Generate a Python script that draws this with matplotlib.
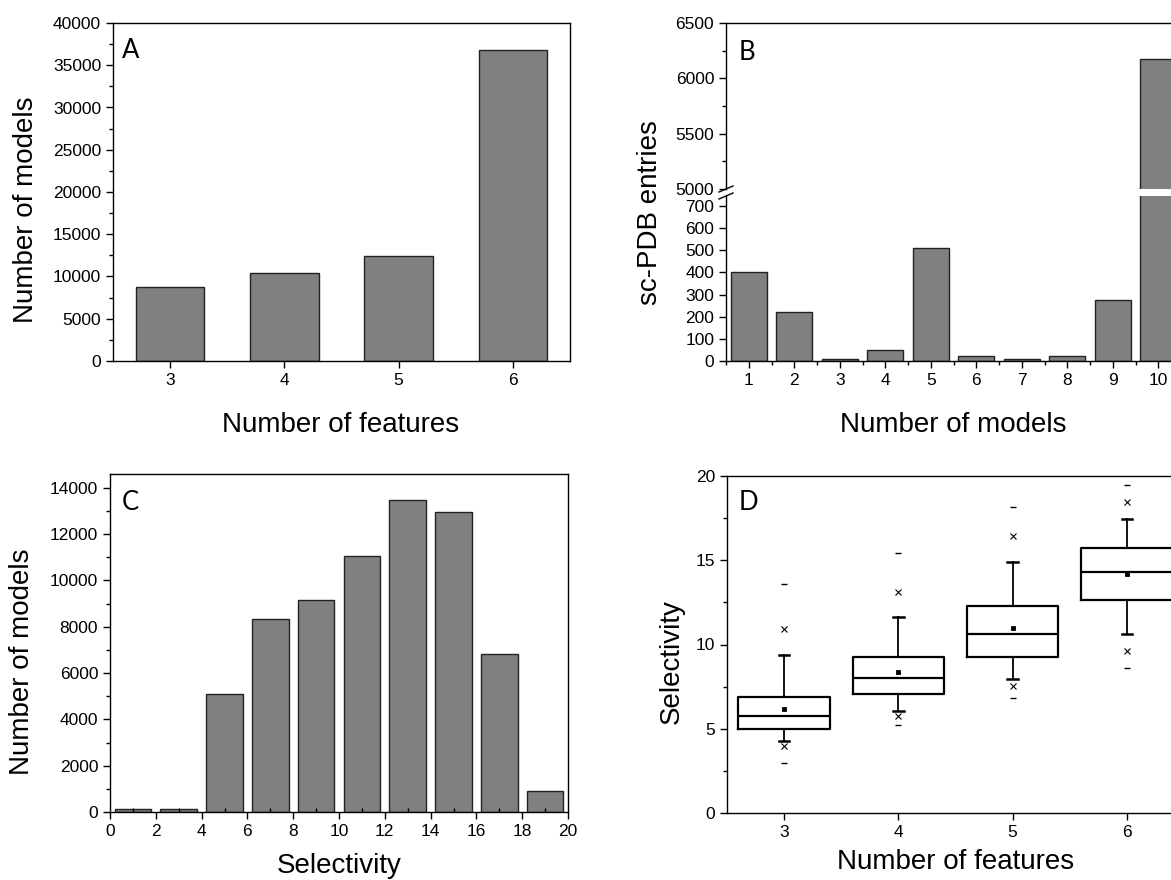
import numpy as np
import matplotlib
matplotlib.use('Agg')
import matplotlib.pyplot as plt
from matplotlib.ticker import MultipleLocator

plt.rcParams['font.family'] = ['Liberation Sans', 'DejaVu Sans']

W, H = 1171, 880

# panel A: models per number of features
a_features = [3, 4, 5, 6]
a_counts = [8800, 10450, 12450, 36800]

# panel B: sc-PDB entries per number of models
b_models = [1, 2, 3, 4, 5, 6, 7, 8, 9, 10]
b_entries = [400, 220, 8, 48, 512, 21, 7, 21, 274, 6175]

# panel C: selectivity histogram (bins of width 2)
c_centers = [1, 3, 5, 7, 9, 11, 13, 15, 17, 19]
c_counts = [115, 110, 5100, 8350, 9150, 11040, 13480, 12960, 6840, 920]

# panel D: selectivity box stats per number of features
d_features = [3, 4, 5, 6]
d_q1 = [5.0, 7.05, 9.28, 12.66]
d_med = [5.77, 8.04, 10.60, 14.29]
d_q3 = [6.89, 9.26, 12.26, 15.72]
d_mean = [6.18, 8.35, 10.96, 14.18]
d_whislo = [4.28, 6.08, 7.94, 10.64]
d_whishi = [9.38, 11.61, 14.87, 17.45]
d_p1 = [3.95, 5.75, 7.52, 9.60]
d_p99 = [10.92, 13.11, 16.41, 18.44]
d_min = [2.98, 5.25, 6.85, 8.63]
d_max = [13.58, 15.42, 18.14, 19.49]

BAR = '#808080'
TICK_FS = 12.5
LABEL_FS = 20
LETTER_FS = 18.5


def rect(l, t, r, b):
    # pixel box -> figure fraction
    return [l / W, 1 - b / H, (r - l) / W, (b - t) / H]


def pt(x, y):
    return x / W, 1 - y / H


def style(ax):
    ax.tick_params(which='both', direction='out', labelsize=TICK_FS,
                   top=False, right=False, width=1.0, color='black')
    ax.tick_params(which='major', length=5)
    ax.tick_params(which='minor', length=3)
    for s in ax.spines.values():
        s.set_linewidth(1.0)


fig = plt.figure(figsize=(W / 100, H / 100), dpi=100)

# ---- A ----
axA = fig.add_axes(rect(113, 23, 570, 361))
axA.bar(a_features, a_counts, width=0.6, color=BAR, edgecolor='#222222', linewidth=1.0)
axA.set_xlim(2.5, 6.5)
axA.set_ylim(0, 40000)
axA.set_xticks(a_features)
axA.yaxis.set_major_locator(MultipleLocator(5000))
axA.yaxis.set_minor_locator(MultipleLocator(2500))
style(axA)
axA.set_xlabel('Number of features', fontsize=LABEL_FS, va='center')
axA.xaxis.set_label_coords(*pt(341, 425), transform=fig.transFigure)
axA.set_ylabel('Number of models', fontsize=LABEL_FS, va='center')
axA.yaxis.set_label_coords(*pt(26, 210), transform=fig.transFigure)
fig.text(*pt(131, 50), 'A', family='Lato', fontsize=LETTER_FS, ha='center', va='center')

# ---- B (broken y axis) ----
axBu = fig.add_axes(rect(726, 23, 1181, 189))
axBl = fig.add_axes(rect(726, 196, 1181, 361))
for ax in (axBu, axBl):
    ax.bar(b_models, b_entries, width=0.8, color=BAR, edgecolor='#222222', linewidth=1.0)
    ax.set_xlim(0.5, 10.5)
    style(ax)
axBu.set_ylim(5000, 6500)
axBu.yaxis.set_major_locator(MultipleLocator(500))
axBu.yaxis.set_minor_locator(MultipleLocator(250))
axBu.spines['bottom'].set_visible(False)
axBu.tick_params(axis='x', which='both', bottom=False, labelbottom=False)
axBl.set_ylim(0, 745)
axBl.yaxis.set_major_locator(MultipleLocator(100))
axBl.spines['top'].set_visible(False)
axBl.set_xticks(b_models)
axBl.xaxis.set_minor_locator(MultipleLocator(0.5))
# break marks on the left spine
for yb in (189, 196):
    x0, y0 = pt(719, yb + 3)
    x1, y1 = pt(733, yb - 3)
    fig.add_artist(plt.Line2D([x0, x1], [y0, y1], color='black', lw=1.0))
axBl.set_xlabel('Number of models', fontsize=LABEL_FS, va='center')
axBl.xaxis.set_label_coords(*pt(953, 425), transform=fig.transFigure)
fig.text(*pt(650, 213), 'sc-PDB entries', fontsize=LABEL_FS, rotation=90,
         ha='center', va='center')
fig.text(*pt(747, 52), 'B', family='Lato', fontsize=LETTER_FS, ha='center', va='center')

# ---- C ----
axC = fig.add_axes(rect(110, 474, 568, 812))
axC.bar(c_centers, c_counts, width=1.6, color=BAR, edgecolor='#222222', linewidth=1.0)
axC.set_xlim(0, 20)
axC.set_ylim(0, 14600)
axC.xaxis.set_major_locator(MultipleLocator(2))
axC.xaxis.set_minor_locator(MultipleLocator(1))
axC.yaxis.set_major_locator(MultipleLocator(2000))
axC.yaxis.set_minor_locator(MultipleLocator(1000))
style(axC)
axC.tick_params(axis='x', which='minor', direction='in')
axC.set_xlabel('Selectivity', fontsize=LABEL_FS, va='center')
axC.xaxis.set_label_coords(*pt(339, 866), transform=fig.transFigure)
axC.set_ylabel('Number of models', fontsize=LABEL_FS, va='center')
axC.yaxis.set_label_coords(*pt(22, 662), transform=fig.transFigure)
fig.text(*pt(130, 502), 'C', family='Lato', fontsize=LETTER_FS, ha='center', va='center')

# ---- D ----
axD = fig.add_axes(rect(727, 476, 1184, 813))
stats = []
for i in range(len(d_features)):
    stats.append(dict(med=d_med[i], q1=d_q1[i], q3=d_q3[i], whislo=d_whislo[i],
                      whishi=d_whishi[i], mean=d_mean[i], fliers=[]))
axD.bxp(stats, positions=d_features, widths=0.8, capwidths=0.09,
        showmeans=True, showfliers=False,
        boxprops=dict(color='black', lw=1.6),
        medianprops=dict(color='black', lw=1.6),
        whiskerprops=dict(color='black', lw=1.3),
        capprops=dict(color='black', lw=1.8),
        meanprops=dict(marker='s', markersize=2.2, markerfacecolor='black',
                       markeredgecolor='black', markeredgewidth=0.6))
axD.plot(d_features, d_p1, 'x', color='black', ms=4, mew=0.8)
axD.plot(d_features, d_p99, 'x', color='black', ms=4, mew=0.8)
axD.plot(d_features, d_min, '_', color='black', ms=4, mew=1.0)
axD.plot(d_features, d_max, '_', color='black', ms=4, mew=1.0)
axD.set_xlim(2.5, 6.5)
axD.set_ylim(0, 20)
axD.set_xticks(d_features)
axD.set_xticklabels([str(v) for v in d_features])
axD.yaxis.set_major_locator(MultipleLocator(5))
axD.yaxis.set_minor_locator(MultipleLocator(2.5))
style(axD)
axD.set_xlabel('Number of features', fontsize=LABEL_FS, va='center')
axD.xaxis.set_label_coords(*pt(956, 862), transform=fig.transFigure)
axD.set_ylabel('Selectivity', fontsize=LABEL_FS, va='center')
axD.yaxis.set_label_coords(*pt(672, 662), transform=fig.transFigure)
fig.text(*pt(748, 502), 'D', family='Lato', fontsize=LETTER_FS, ha='center', va='center')

fig.savefig('out.png', dpi=100)
